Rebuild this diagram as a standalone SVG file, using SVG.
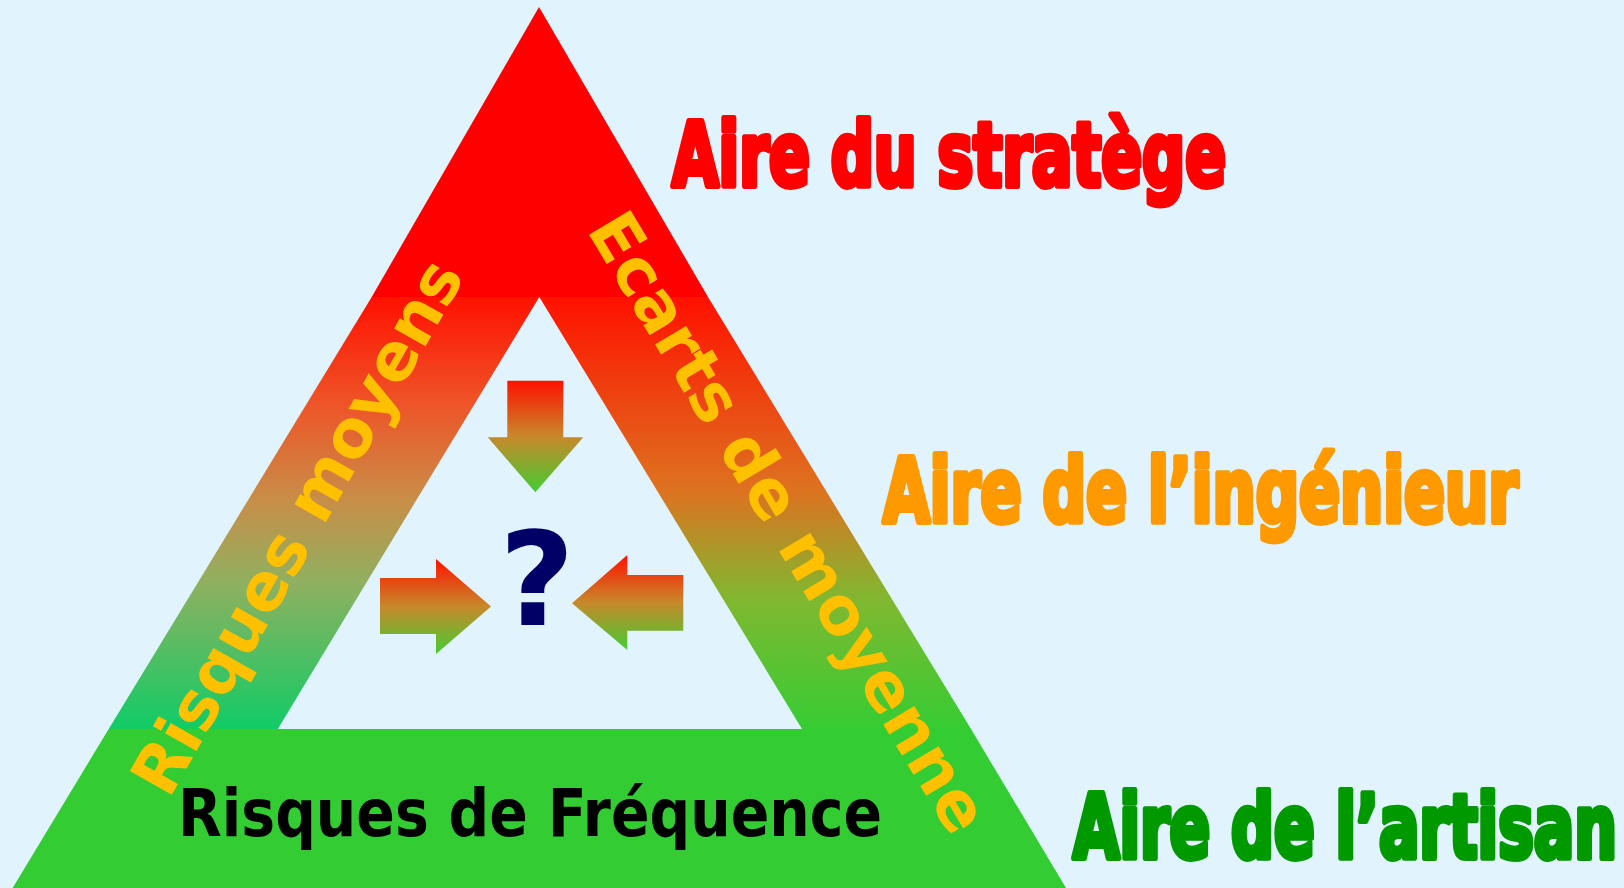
<svg xmlns="http://www.w3.org/2000/svg" width="1624" height="888" viewBox="0 0 1624 888">
<defs>
<linearGradient id="gLeft" gradientUnits="userSpaceOnUse" x1="0" y1="297" x2="0" y2="729">
<stop offset="0" stop-color="#FF1100"/>
<stop offset="0.25" stop-color="#EE5528"/>
<stop offset="0.47" stop-color="#C88E48"/>
<stop offset="0.66" stop-color="#90B060"/>
<stop offset="1" stop-color="#10CC66"/>
</linearGradient>
<linearGradient id="gRight" gradientUnits="userSpaceOnUse" x1="0" y1="297" x2="0" y2="729">
<stop offset="0" stop-color="#FF1100"/>
<stop offset="0.45" stop-color="#DD7320"/>
<stop offset="0.7" stop-color="#80B830"/>
<stop offset="1" stop-color="#36CC33"/>
</linearGradient>
<linearGradient id="gArrow" x1="0" y1="0" x2="0" y2="1">
<stop offset="0" stop-color="#FF1100"/>
<stop offset="0.5" stop-color="#C8882A"/>
<stop offset="1" stop-color="#44CC33"/>
</linearGradient>
<style>
.band-text{font-family:"DejaVu Sans","Liberation Sans",sans-serif;font-weight:bold;font-size:66px;fill:#FFC000}
.title{font-family:"DejaVu Sans Condensed","DejaVu Sans","Liberation Sans",sans-serif;font-weight:bold;font-size:89px;stroke-width:6;stroke-linejoin:round}
.arrow{fill:url(#gArrow)}
</style>
</defs>
<rect width="1624" height="888" fill="#E1F4FE"/>
<g id="apex-red"><polygon points="539,7 708,297 371.7,297" fill="#FF0000"/></g>
<g id="band-left"><polygon points="371.7,297 539.3,297 277.8,729 108.7,729" fill="url(#gLeft)"/></g>
<g id="band-right"><polygon points="539.3,297 708,297 971,729 802,729" fill="url(#gRight)"/></g>
<g id="base-green">
<polygon points="108.7,729 971,729 1066,888 12.6,888" fill="#33CC33"/>
<text x="178" y="836" textLength="704" lengthAdjust="spacingAndGlyphs" font-family="DejaVu Sans, Liberation Sans, sans-serif" font-weight="bold" font-size="66" fill="#000000">Risques de Fréquence</text>
</g>
<g id="label-left-band"><text class="band-text" text-anchor="middle" transform="translate(317,538) rotate(-60.5)">Risques moyens</text></g>
<g id="label-right-band"><text class="band-text" text-anchor="middle" transform="translate(769,534) rotate(59)">Ecarts de moyenne</text></g>
<g id="connectors">
<polygon class="arrow" points="507.3,380.7 563.3,380.7 563.3,437.3 583.3,437.3 535.3,492.3 487.7,437.3 507.3,437.3"/>
<polygon class="arrow" points="380,578 436,578 436,559 491,606.5 436,654 436,634 380,634"/>
<polygon class="arrow" points="683.3,575 627.3,575 627.3,555 572,603.3 627.3,650 627.3,630.7 683.3,630.7"/>
</g>
<g id="question"><text x="537" y="625" text-anchor="middle" font-family="DejaVu Sans, Liberation Sans, sans-serif" font-weight="bold" font-size="130" fill="#000066">?</text></g>
<g id="label-strategist"><text class="title" x="672" y="186" textLength="554" lengthAdjust="spacingAndGlyphs" fill="#FF0000" stroke="#FF0000">Aire du stratège</text></g>
<g id="label-engineer"><text class="title" x="883" y="522" textLength="635" lengthAdjust="spacingAndGlyphs" fill="#FF9900" stroke="#FF9900">Aire de l’ingénieur</text></g>
<g id="label-craftsman"><text class="title" x="1073" y="858" textLength="544" lengthAdjust="spacingAndGlyphs" fill="#009900" stroke="#009900">Aire de l’artisan</text></g>
</svg>
